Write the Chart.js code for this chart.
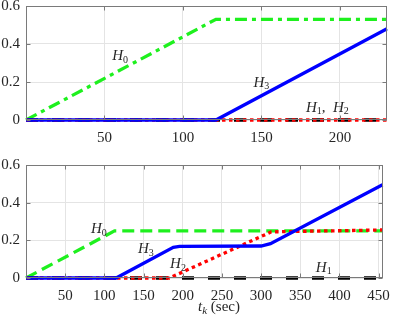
<!DOCTYPE html>
<html>
<head>
<meta charset="utf-8">
<script src="https://cdn.jsdelivr.net/npm/chart.js@4.4.1/dist/chart.umd.min.js"></script>
<style>
    body { margin: 0; background: #fff; width: 399px; height: 318px; overflow: hidden; position: relative; }
    canvas { position: absolute; left: 0; }
</style>
</head>
<body>
<canvas id="topChart" width="399" height="160" style="top:-10px"></canvas>
<canvas id="bottomChart" width="399" height="168" style="top:150px"></canvas>
<script>
// upper panel, breakpoints (t in sec, value)
const topH0t = [0, 121, 230];
const topH0 = [0, 0.53, 0.53];
const topH1t = [0, 230];
const topH1 = [0, 0];
const topH2t = [0, 230];
const topH2 = [0, 0];
const topH3t = [0, 121, 230];
const topH3 = [0, 0, 0.48];
const topXTicks = [50, 100, 150, 200];

// lower panel
const botH0t = [0, 113, 455];
const botH0 = [0, 0.25, 0.25];
const botH1t = [0, 455];
const botH1 = [0, 0];
const botH2t = [0, 183, 313, 455];
const botH2 = [0, 0, 0.245, 0.255];
const botH3t = [0, 115, 188, 196, 300, 312, 455];
const botH3 = [0, 0, 0.163, 0.168, 0.17, 0.182, 0.495];
const botXTicks = [50, 100, 150, 200, 250, 300, 350, 400, 450];

const yTicks = [0, 0.2, 0.4, 0.6];
const yTickLabels = ['0', '0.2', '0.4', '0.6'];

const serif = '"Liberation Serif", "DejaVu Serif", serif';
const textColor = '#262626';
const boxColor = '#7a7a7a';

const pts = (t, v) => t.map((x, i) => ({ x: x, y: v[i] }));

// box, inner tick marks and the H labels
const framePlugin = {
    id: 'frame',
    afterDatasetsDraw(chart, args, opts) {
        const ctx = chart.ctx;
        const a = chart.chartArea;
        const xs = chart.scales.x, ys = chart.scales.y;
        const l = Math.round(a.left) + 0.5, r = Math.round(a.right) - 0.5;
        const t = Math.round(a.top) + 0.5, b = Math.round(a.bottom) - 0.5;
        ctx.save();
        ctx.strokeStyle = boxColor;
        ctx.lineWidth = 1;
        ctx.strokeRect(l, t, r - l, b - t);
        ctx.beginPath();
        xs.ticks.forEach(tk => {
            const px = Math.round(xs.getPixelForValue(tk.value)) + 0.5;
            ctx.moveTo(px, b); ctx.lineTo(px, b - 4);
            ctx.moveTo(px, t); ctx.lineTo(px, t + 4);
        });
        ys.ticks.forEach(tk => {
            const py = Math.round(ys.getPixelForValue(tk.value)) + 0.5;
            ctx.moveTo(l, py); ctx.lineTo(l + 4, py);
            ctx.moveTo(r, py); ctx.lineTo(r - 4, py);
        });
        ctx.stroke();

        ctx.fillStyle = textColor;
        ctx.textBaseline = 'middle';
        const fontOf = s => (s === 'i' ? 'italic 15px ' : s === 'sub' ? '10px ' : s === 'isub' ? 'italic 11px ' : '15px ') + serif;
        const drawParts = (cx, cy, parts) => {
            let w = 0;
            parts.forEach(p => { ctx.font = fontOf(p[1]); w += ctx.measureText(p[0]).width; });
            let x = cx - w / 2;
            ctx.textAlign = 'left';
            parts.forEach(p => {
                ctx.font = fontOf(p[1]);
                const dy = (p[1] === 'sub' || p[1] === 'isub') ? 4 : 0;
                ctx.fillText(p[0], x, cy + dy);
                x += ctx.measureText(p[0]).width;
            });
        };
        (opts.labels || []).forEach(lb => {
            drawParts(xs.getPixelForValue(lb.x), ys.getPixelForValue(lb.y), lb.parts);
        });
        if (opts.xTitle) drawParts(opts.xTitle.px, opts.xTitle.py, opts.xTitle.parts);
        ctx.restore();
    }
};

function makeChart(id, xMax, xTicks, series, labels, padTop, xHeight, xTitle) {
    const ctx = document.getElementById(id).getContext('2d');
    const line = { clip: 6, borderWidth: 3.3 };
    return new Chart(ctx, {
        type: 'line',
        data: {
            datasets: [
                { ...line, label: 'H3', data: series.h3, borderColor: '#0000ff' },
                { ...line, label: 'H2', data: series.h2, borderColor: '#ff0000', borderDash: [3.5, 3.5] },
                { ...line, label: 'H1', data: series.h1, borderColor: '#000000', borderDash: [12, 14] },
                { ...line, label: 'H0', data: series.h0, borderColor: '#1ef01e', borderDash: series.greenDash }
            ]
        },
        options: {
            responsive: false,
            animation: false,
            events: [],
            elements: { point: { radius: 0 }, line: { tension: 0, fill: false } },
            layout: { padding: { top: padTop, right: 12, left: 0, bottom: 0 } },
            plugins: {
                legend: { display: false },
                tooltip: { enabled: false },
                frame: { labels: labels, xTitle: xTitle }
            },
            scales: {
                x: {
                    type: 'linear',
                    min: 0,
                    max: xMax,
                    afterBuildTicks: s => { s.ticks = xTicks.map(v => ({ value: v })); },
                    ticks: {
                        maxRotation: 0,
                        autoSkip: false,
                        padding: 9,
                        color: textColor,
                        font: { family: serif, size: 15 },
                        callback: v => String(v)
                    },
                    grid: { color: '#e4e4e4', drawTicks: false },
                    border: { display: false },
                    afterFit: s => { s.height = xHeight; }
                },
                y: {
                    min: 0,
                    max: 0.6,
                    afterBuildTicks: s => { s.ticks = yTicks.map(v => ({ value: v })); },
                    ticks: {
                        padding: 6,
                        color: textColor,
                        font: { family: serif, size: 15 },
                        callback: (v, i) => yTickLabels[i]
                    },
                    grid: { color: '#e4e4e4', drawTicks: false },
                    border: { display: false },
                    afterFit: s => { s.width = 26; }
                }
            }
        },
        plugins: [framePlugin]
    });
}

makeChart('topChart', 230, topXTicks, {
    h0: pts(topH0t, topH0), h1: pts(topH1t, topH1), h2: pts(topH2t, topH2), h3: pts(topH3t, topH3),
    greenDash: [12, 5, 4, 5]
}, [
    { x: 60, y: 0.335, parts: [['H', 'i'], ['0', 'sub']] },
    { x: 150, y: 0.196, parts: [['H', 'i'], ['3', 'sub']] },
    { x: 192, y: 0.064, parts: [['H', 'i'], ['1', 'sub'], [',  ', 'n'], ['H', 'i'], ['2', 'sub']] }
], 16, 30, null);

makeChart('bottomChart', 455, botXTicks, {
    h0: pts(botH0t, botH0), h1: pts(botH1t, botH1), h2: pts(botH2t, botH2), h3: pts(botH3t, botH3),
    greenDash: [12, 6]
}, [
    { x: 93, y: 0.26, parts: [['H', 'i'], ['0', 'sub']] },
    { x: 153, y: 0.151, parts: [['H', 'i'], ['3', 'sub']] },
    { x: 194, y: 0.073, parts: [['H', 'i'], ['2', 'sub']] },
    { x: 380, y: 0.055, parts: [['H', 'i'], ['1', 'sub']] }
], 15, 40, { px: 219, py: 157, parts: [['t', 'i'], ['k', 'isub'], [' (sec)', 'n']] });
</script>
</body>
</html>
